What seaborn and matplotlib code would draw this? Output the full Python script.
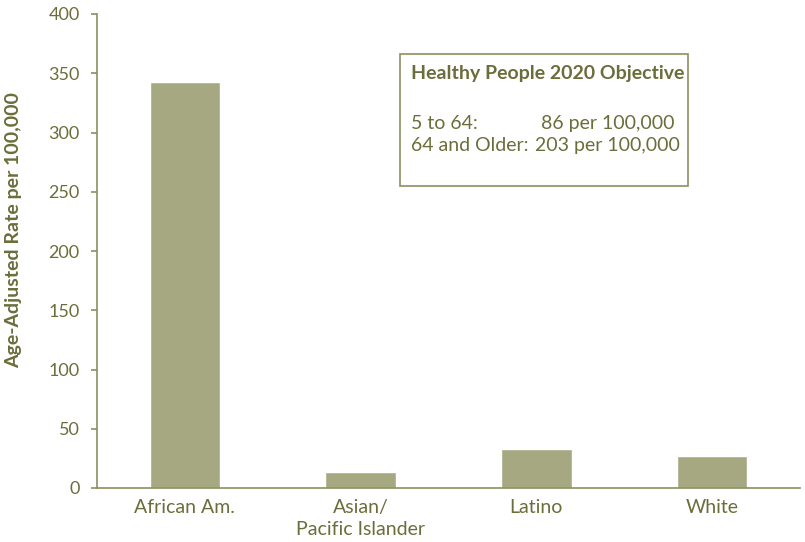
import matplotlib
matplotlib.use("Agg")
import matplotlib.pyplot as plt
import seaborn as sns
import pandas as pd
from matplotlib.patches import Rectangle

categories = ["African Am.", "Asian/\nPacific Islander", "Latino", "White"]
values = [343, 13.5, 33, 27]
yticks = [0, 50, 100, 150, 200, 250, 300, 350, 400]

sns.set_theme(style="white")
plt.rcParams['font.family'] = ['Lato', 'DejaVu Sans']

text_color = "#6b6e3a"
spine_color = "#8c8e62"
bar_color = "#a6a882"

df = pd.DataFrame({"group": categories, "rate": values})

fig = plt.figure(figsize=(8.05, 5.42), dpi=100)
ax = fig.add_axes([97/805, 1-488/542, 703/805, 474/542])

sns.barplot(data=df, x="group", y="rate", color=bar_color, width=0.4,
            saturation=1, ax=ax)

ax.set_ylim(0, 400)
ax.set_xlim(-0.5, 3.5)
ax.set_yticks(yticks)
ax.set_yticklabels([str(t) for t in yticks], color=text_color, fontsize=13)
ax.set_xticks(range(len(categories)))
ax.set_xticklabels(categories, color=text_color, fontsize=14, linespacing=1.35)
ax.set_xlabel("")
ax.set_ylabel("Age-Adjusted Rate per 100,000", color=text_color, fontsize=14,
              fontweight="bold")
ax.yaxis.set_label_coords(-0.107, 0.544)

for s in ["top", "right"]:
    ax.spines[s].set_visible(False)
for s in ["left", "bottom"]:
    ax.spines[s].set_color(spine_color)
    ax.spines[s].set_linewidth(1.2)

ax.tick_params(axis="y", which="major", left=True, length=4.5, width=1.2,
               color=spine_color, pad=8)
ax.tick_params(axis="x", bottom=False, pad=2)

box = Rectangle((0.431, 0.637), 0.41, 0.279, transform=ax.transAxes,
                fill=False, edgecolor=spine_color, linewidth=1.2)
ax.add_patch(box)
ax.text(0.446, 0.875, "Healthy People 2020 Objective", transform=ax.transAxes,
        color=text_color, fontsize=14, fontweight="bold", va="center", ha="left")
ax.text(0.446, 0.768, "5 to 64:", transform=ax.transAxes,
        color=text_color, fontsize=14, va="center", ha="left")
ax.text(0.446, 0.722, "64 and Older:", transform=ax.transAxes,
        color=text_color, fontsize=14, va="center", ha="left")
ax.text(0.822, 0.768, "86 per 100,000", transform=ax.transAxes,
        color=text_color, fontsize=14, va="center", ha="right")
ax.text(0.829, 0.722, "203 per 100,000", transform=ax.transAxes,
        color=text_color, fontsize=14, va="center", ha="right")

fig.savefig("out.png", dpi=100)
